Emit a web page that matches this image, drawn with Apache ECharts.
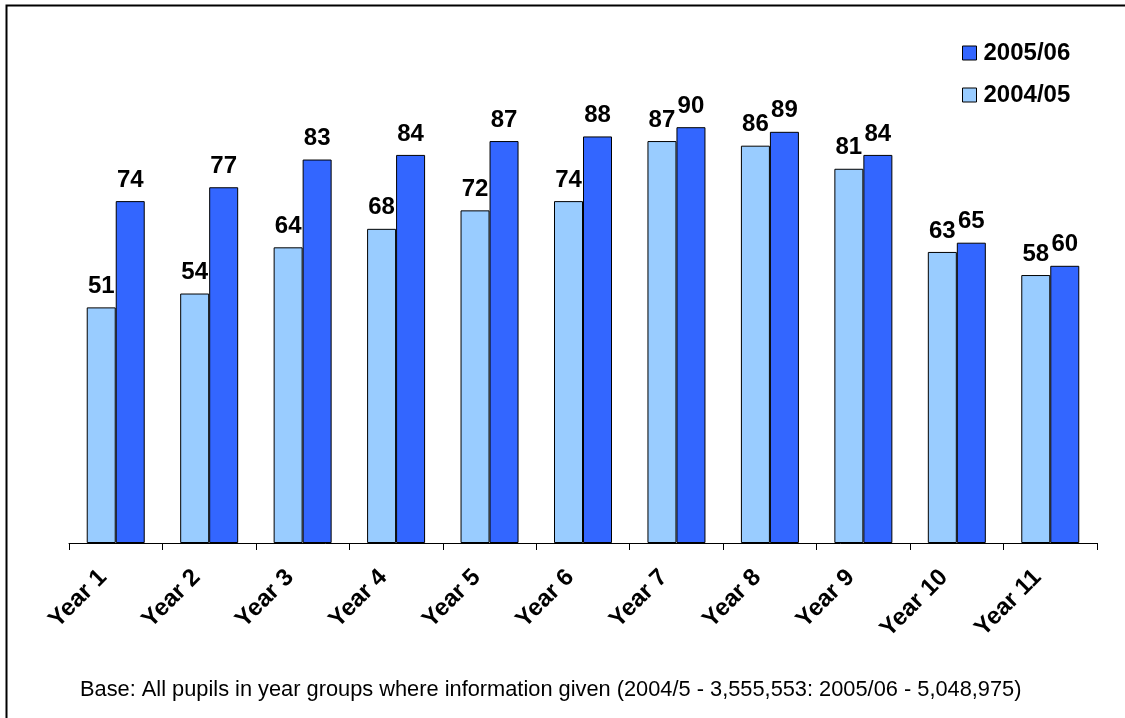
<!DOCTYPE html>
<html>
<head>
<meta charset="utf-8">
<script src="https://cdn.jsdelivr.net/npm/echarts@6/dist/echarts.min.js"></script>
<style>
  html, body { margin: 0; padding: 0; background: #fff; }
  #chart { width: 1125px; height: 718px; }
</style>
</head>
<body>
<div id="chart"></div>
<script>
// Year groups along the category axis
const categories = ['Year 1', 'Year 2', 'Year 3', 'Year 4', 'Year 5', 'Year 6',
                    'Year 7', 'Year 8', 'Year 9', 'Year 10', 'Year 11'];
// Series values per school year
const values2004 = [51, 54, 64, 68, 72, 74, 87, 86, 81, 63, 58];
const values2005 = [74, 77, 83, 84, 87, 88, 90, 89, 84, 65, 60];
const footnote = 'Base: All pupils in year groups where information given (2004/5 - 3,555,553: 2005/06 - 5,048,975)';

const FONT = '"Liberation Sans", Arial, sans-serif';

const chart = echarts.init(document.getElementById('chart'), null, { renderer: 'canvas' });

const barLabel = {
  show: true,
  position: 'top',
  distance: 9,
  color: '#000',
  fontFamily: FONT,
  fontWeight: 'bold',
  fontSize: 24
};

chart.setOption({
  animation: false,
  backgroundColor: '#fff',
  grid: { left: 69, right: 28, top: 81, bottom: 175, containLabel: false },
  legend: {
    data: ['2005/06', '2004/05'],
    orient: 'vertical',
    left: 957,
    top: 36,
    itemWidth: 14,
    itemHeight: 14,
    itemGap: 18,
    icon: 'rect',
    itemStyle: { borderColor: '#000', borderWidth: 1 },
    textStyle: { color: '#000', fontFamily: FONT, fontWeight: 'bold', fontSize: 24, padding: [0, 0, 0, 2] }
  },
  xAxis: {
    type: 'category',
    data: categories,
    axisLine: { show: true, lineStyle: { color: '#000', width: 1 } },
    axisTick: { show: true, alignWithLabel: false, length: 7, lineStyle: { color: '#000' } },
    axisLabel: {
      rotate: 45,
      margin: 18,
      interval: 0,
      padding: [0, 18, 0, 0],
      color: '#000',
      fontFamily: FONT,
      fontWeight: 'bold',
      fontSize: 24
    }
  },
  yAxis: {
    type: 'value',
    min: 0,
    max: 100,
    show: false,
    splitLine: { show: false }
  },
  series: [
    {
      name: '2004/05',
      type: 'bar',
      data: values2004,
      barWidth: 29,
      barGap: '0%',
      itemStyle: { color: '#99CCFF', borderColor: '#000', borderWidth: 1 },
      label: barLabel
    },
    {
      name: '2005/06',
      type: 'bar',
      data: values2005,
      barWidth: 29,
      barGap: '0%',
      itemStyle: { color: '#3366FF', borderColor: '#000', borderWidth: 1 },
      label: barLabel
    }
  ],
  graphic: [
    {
      type: 'rect',
      shape: { x: 6.5, y: 5.5, width: 1200, height: 800 },
      style: { fill: 'none', stroke: '#000', lineWidth: 2 },
      silent: true
    },
    {
      type: 'text',
      left: 80,
      top: 679,
      style: { text: footnote, fill: '#000', font: '21.8px ' + FONT }
    }
  ]
});
</script>
</body>
</html>
